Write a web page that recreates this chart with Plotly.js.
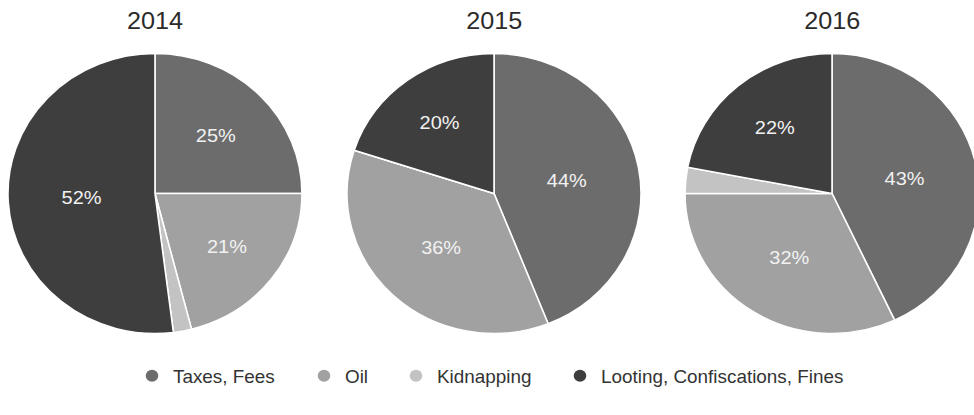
<!DOCTYPE html>
<html>
<head>
<meta charset="utf-8">
<script src="https://cdn.plot.ly/plotly-3.0.1.min.js"></script>
<style>
  html, body { margin: 0; padding: 0; overflow: hidden; background: #fff; }
  #wrap { width: 974px; height: 415px; overflow: hidden; }
  #chart { width: 940px; height: 415px; transform: scaleX(1.05); transform-origin: 0 0; }
</style>
</head>
<body>
<div id="wrap"><div id="chart"></div></div>
<script>
// ---- data ----
const categories = ['Taxes, Fees', 'Oil', 'Kidnapping', 'Looting, Confiscations, Fines'];
const years = ['2014', '2015', '2016'];
const values2014 = [25, 21, 2, 52];
const values2015 = [44, 36, 0, 20];
const values2016 = [43, 32, 3, 22];

// ---- styles ----
const sliceColors = ['#6c6c6c', '#a1a1a1', '#c3c3c3', '#3e3e3e'];
const FONT = '"Liberation Sans", Arial, Helvetica, sans-serif';
const SX = 1.05;
const W = 940, H = 415;
const centersX = [147.6, 470.5, 792.4];
const R = 140;
const cy = 193.5;
// legend marker centres (in final screen px)
const legendMarkerX = [152, 324, 416, 580];

const allValues = [values2014, values2015, values2016];

const traces = allValues.map(function (vals, i) {
  const cx = centersX[i];
  return {
    type: 'pie',
    labels: categories,
    values: vals,
    text: vals.map(function (v) { return v >= 5 ? v + '%' : ''; }),
    textinfo: 'text',
    textposition: 'inside',
    insidetextorientation: 'horizontal',
    insidetextfont: { family: FONT, size: 19, color: '#f2f2f2' },
    hoverinfo: 'label+text',
    sort: false,
    direction: 'clockwise',
    rotation: 0,
    showlegend: false,
    marker: { colors: sliceColors, line: { color: '#ffffff', width: 1.5 } },
    domain: {
      x: [(cx - R) / W, (cx + R) / W],
      y: [(H - (cy + R)) / H, (H - (cy - R)) / H]
    }
  };
});

const layout = {
  width: W, height: H,
  margin: { l: 0, r: 0, t: 0, b: 0 },
  paper_bgcolor: '#ffffff',
  plot_bgcolor: 'rgba(0,0,0,0)',
  xaxis: { visible: false, fixedrange: true },
  yaxis: { visible: false, fixedrange: true },
  showlegend: true,
  font: { family: FONT }
};

// legend entries (circle markers), one small legend per entry
categories.forEach(function (c, i) {
  const key = i === 0 ? 'legend' : 'legend' + (i + 1);
  traces.push({
    type: 'scatter',
    mode: 'markers',
    x: [null], y: [null],
    name: c,
    legend: key,
    marker: { symbol: 'circle', size: 12, color: sliceColors[i] },
    showlegend: true,
    hoverinfo: 'skip'
  });
  layout[key] = {
    orientation: 'h',
    x: (legendMarkerX[i] / SX - 20) / W, xanchor: 'left',
    y: (H - 376) / H, yanchor: 'middle',
    font: { family: FONT, size: 18, color: '#333333' },
    bgcolor: 'rgba(0,0,0,0)',
    borderwidth: 0
  };
});

layout.annotations = years.map(function (y, i) {
  return {
    text: y,
    xref: 'paper', yref: 'paper',
    x: centersX[i] / W, y: (H - 20) / H,
    xanchor: 'center', yanchor: 'middle',
    showarrow: false,
    font: { family: FONT, size: 24, color: '#2b2b2b' }
  };
});

Plotly.newPlot('chart', traces, layout, { displayModeBar: false, staticPlot: true });
</script>
</body>
</html>
